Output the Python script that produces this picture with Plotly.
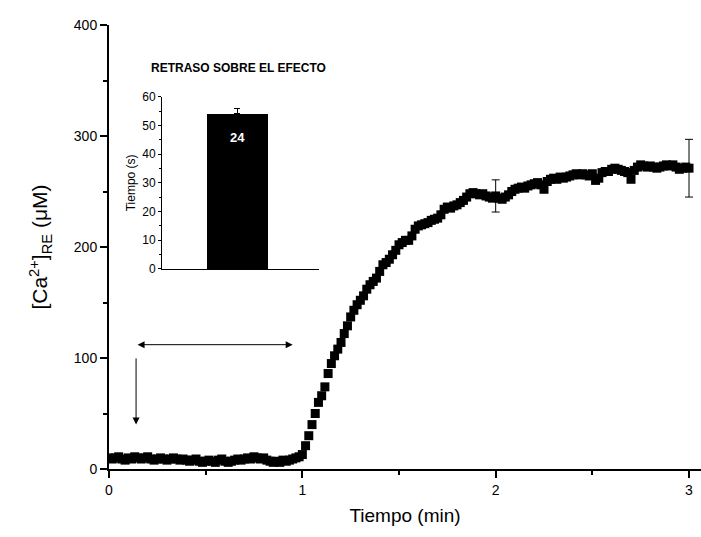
import plotly.graph_objects as go

# ---------------- data ----------------
# one sample per second, 0 .. 180 s
time_s = list(range(181))
ca_re_uM = [
    # 0-59 s baseline
    10, 9, 10, 11, 9, 8, 10, 9, 11, 10,
    9, 10, 11, 9, 8, 9, 10, 9, 8, 9,
    10, 9, 8, 9, 8, 7, 8, 9, 7, 6,
    7, 8, 7, 6, 8, 9, 7, 6, 7, 8,
    9, 8, 9, 10, 9, 11, 10, 9, 10, 8,
    7, 6, 7, 6, 8, 7, 8, 9, 10, 11,
    # 60-119 s rise
    13, 21, 30, 40, 50, 60, 66, 74, 86, 95,
    102, 108, 114, 122, 129, 137, 143, 148, 152, 156,
    162, 166, 169, 172, 178, 184, 186, 189, 193, 197,
    202, 204, 206, 206, 210, 216, 219, 220, 221, 222,
    224, 225, 226, 229, 234, 236, 235, 237, 238, 240,
    242, 245, 248, 249, 248, 247, 248, 246, 245, 244,
    # 120-180 s plateau
    246, 244, 243, 245, 247, 250, 252, 253, 254, 253,
    255, 256, 257, 258, 256, 252, 259, 261, 262, 261,
    263, 262, 263, 264, 265, 266, 265, 266, 265, 264,
    266, 260, 262, 267, 268, 268, 270, 271, 270, 269,
    268, 267, 261, 269, 272, 274, 273, 272, 273, 272,
    271, 272, 273, 274, 273, 274, 272, 270, 271, 272,
    271,
]
time_min = [s / 60 for s in time_s]

err_t = [2.0, 3.0]
err_mean = [246, 271]
err_sem = [14.5, 26]

inset_value = [54]
inset_err = [2]
inset_n = ["24"]

x_ticks_main = [0, 1, 2, 3]
y_ticks_main = [0, 100, 200, 300, 400]
y_ticks_inset = [0, 10, 20, 30, 40, 50, 60]

# arrows (data coordinates)
delay_start, delay_end, delay_level = 0.14, 0.95, 112
stim_t, stim_top, stim_tip = 0.14, 101, 40

FONT = "Arial, Liberation Sans, sans-serif"

fig = go.Figure()

fig.add_trace(go.Scatter(
    x=time_min, y=ca_re_uM, mode="markers",
    marker=dict(symbol="square", size=9, color="black", line=dict(width=0)),
    showlegend=False, hoverinfo="x+y",
))
fig.add_trace(go.Scatter(
    x=err_t, y=err_mean, mode="markers",
    marker=dict(size=1, color="rgba(0,0,0,0)"),
    error_y=dict(type="data", array=err_sem, visible=True,
                 color="black", thickness=1, width=4),
    showlegend=False, hoverinfo="skip",
))

# inset bar
fig.add_trace(go.Bar(
    x=[0.48], y=inset_value, width=[0.39],
    marker=dict(color="black", line=dict(width=0)),
    error_y=dict(type="data", array=inset_err, arrayminus=[0], visible=True,
                 color="black", thickness=1, width=3),
    xaxis="x2", yaxis="y2", showlegend=False, hoverinfo="y",
))
fig.add_trace(go.Scatter(
    x=[0.48], y=[45.3], mode="text", text=inset_n,
    textfont=dict(family=FONT, size=13, color="white", weight="bold"),
    xaxis="x2", yaxis="y2", showlegend=False, hoverinfo="skip",
))

fig.update_layout(
    width=701, height=537,
    margin=dict(l=109, r=0, t=25, b=68),
    paper_bgcolor="white", plot_bgcolor="white",
    font=dict(family=FONT, color="black"),
    xaxis=dict(
        domain=[0, 1], range=[0, 3.062], tickvals=x_ticks_main,
        ticktext=[str(v) for v in x_ticks_main],
        showgrid=False, zeroline=False, showline=True, linecolor="black",
        linewidth=2, ticks="outside", ticklen=7, tickwidth=2,
        tickcolor="black", tickfont=dict(size=14, color="black"),
        minor=dict(tickvals=[0.5, 1.5, 2.5], ticks="outside", ticklen=4,
                   tickwidth=2, tickcolor="black", showgrid=False),
        title=dict(text="Tiempo (min)", font=dict(size=19, color="black"),
                   standoff=12),
    ),
    yaxis=dict(
        domain=[0, 1], range=[0, 400], tickvals=y_ticks_main,
        showgrid=False, zeroline=False, showline=True, linecolor="black",
        linewidth=2, ticks="outside", ticklen=7, tickwidth=2,
        tickcolor="black", tickfont=dict(size=14, color="black"),
        minor=dict(tickvals=[50, 150, 250, 350], ticks="outside", ticklen=4,
                   tickwidth=2, tickcolor="black", showgrid=False),
        title=dict(text="[Ca<sup>2+</sup>]<sub>RE</sub> (\u03bcM)",
                   font=dict(size=21, color="black"), standoff=20),
    ),
    xaxis2=dict(
        domain=[0.0895, 0.3547], anchor="y2", range=[0, 1],
        showticklabels=False, ticks="", showgrid=False, zeroline=False,
        showline=True, linecolor="black", linewidth=1,
    ),
    yaxis2=dict(
        domain=[0.4505, 0.8385], anchor="x2", range=[0, 60],
        tickvals=y_ticks_inset, showgrid=False, zeroline=False,
        showline=True, linecolor="black", linewidth=1,
        ticks="outside", ticklen=3, tickwidth=1, tickcolor="black",
        tickfont=dict(size=12, color="black"),
        minor=dict(dtick=5, ticks="outside", ticklen=2, tickwidth=1,
                   tickcolor="black", showgrid=False),
        title=dict(text="Tiempo (s)", font=dict(size=12, color="black"),
                   standoff=4),
    ),
    bargap=0,
)

fig.add_annotation(
    x=delay_end, y=delay_level, ax=delay_start, ay=delay_level,
    xref="x", yref="y", axref="x", ayref="y", text="",
    showarrow=True, arrowhead=2, arrowside="end+start",
    arrowsize=1.4, arrowwidth=1, arrowcolor="black",
)
fig.add_annotation(
    x=stim_t, y=stim_tip, ax=stim_t, ay=stim_top,
    xref="x", yref="y", axref="x", ayref="y", text="",
    showarrow=True, arrowhead=2, arrowsize=1.4, arrowwidth=1,
    arrowcolor="black",
)
fig.add_annotation(
    x=(238 - 109) / 592, y=(469 - 68) / 444, xref="paper", yref="paper",
    text="<b>RETRASO SOBRE EL EFECTO</b>", showarrow=False,
    font=dict(size=12, family=FONT, color="black"),
    xanchor="center", yanchor="middle",
)

fig.write_html("out.html")
